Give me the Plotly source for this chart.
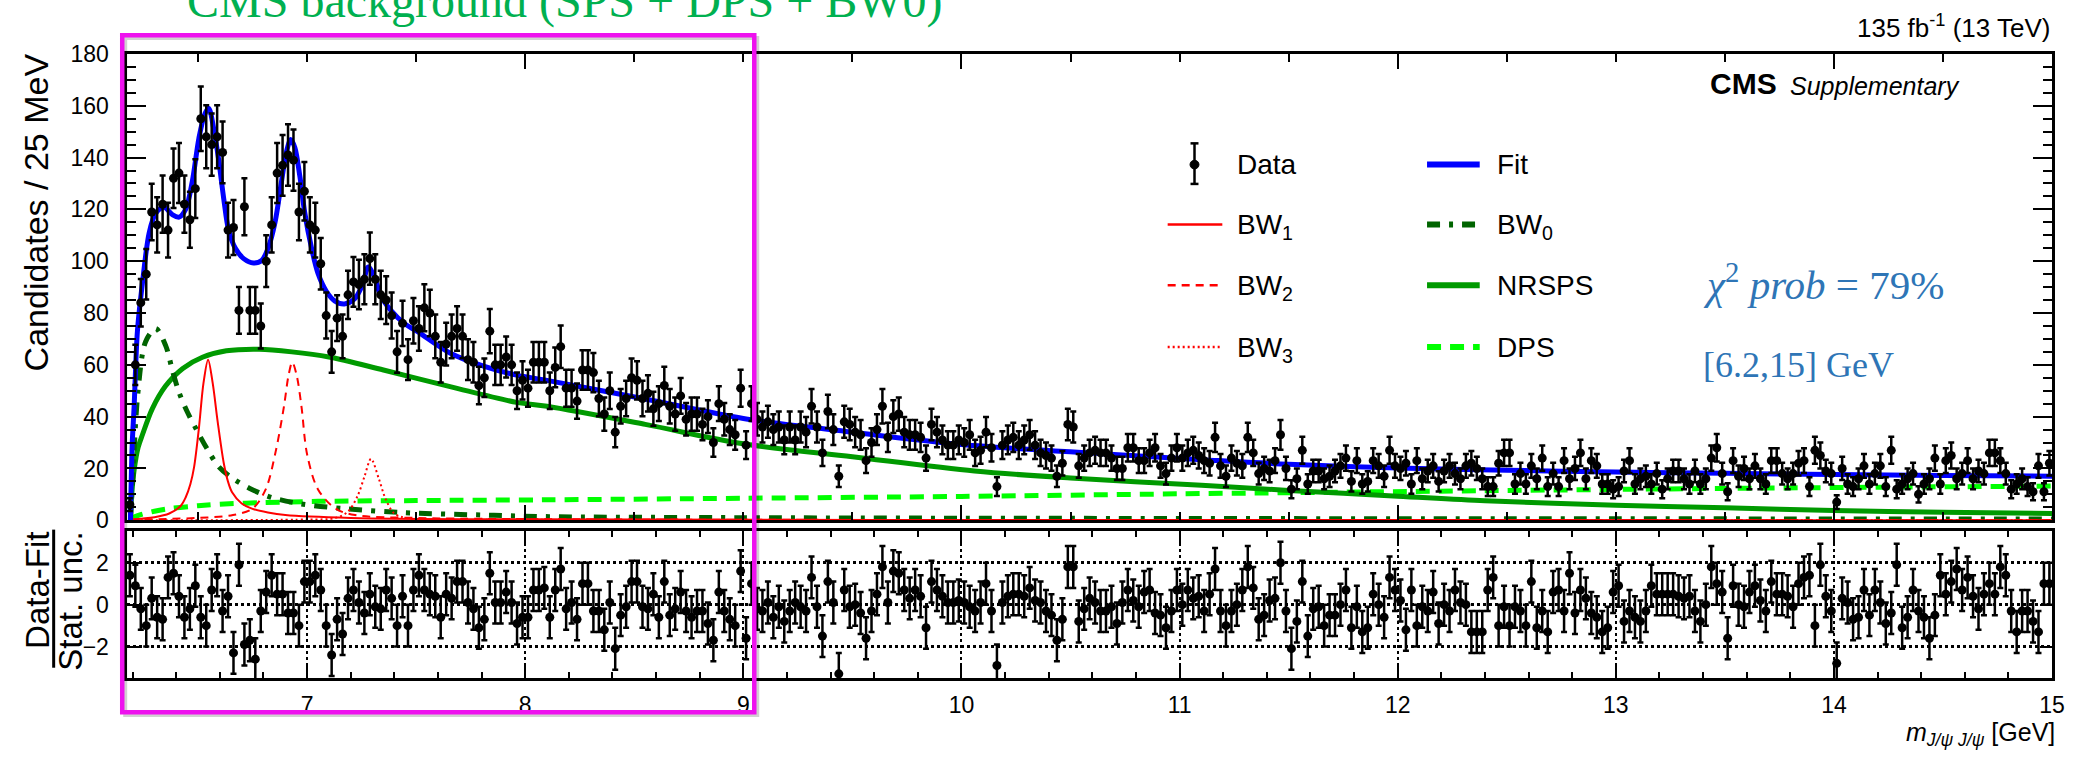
import numpy as np
import plotly.graph_objects as go

W, H = 2084, 757

# ---------------- data ----------------
BIN_LOW = 6.175      # GeV, lower edge of first bin
BIN_WIDTH = 0.025    # GeV  (25 MeV bins)

counts = [
    6, 60, 84, 95, 119, 114, 122, 112, 132, 134,
    122, 116, 128, 155, 148, 145, 148, 142, 112, 113,
    81, 121, 81, 81, 75, 100, 114, 134, 137, 141,
    139, 119, 127, 114, 112, 99, 79, 65, 78, 71,
    87, 92, 91, 93, 101, 93, 87, 85, 79, 65,
    76, 62, 77, 74, 82, 80, 71, 61, 68, 71,
    74, 71, 62, 61, 52, 55, 73, 60, 60, 63,
    60, 50, 54, 51, 61, 61, 61, 50, 59, 67,
    51, 51, 46, 58, 58, 57, 47, 41, 50, 34,
    44, 47, 55, 54, 47, 49, 43, 45, 52, 44,
    41, 48, 39, 41, 41, 37, 40, 30, 45, 39,
    35, 33, 51, 29, 45, 39, 36, 38, 35, 36,
    31, 36, 31, 36, 34, 44, 36, 26, 42, 35,
    17, 38, 37, 34, 33, 23, 30, 35, 44, 32,
    40, 41, 34, 33, 33, 32, 24, 37, 34, 31,
    29, 29, 31, 30, 33, 26, 27, 34, 28, 13,
    29, 31, 32, 29, 31, 33, 29, 26, 25, 24,
    17, 22, 37, 36, 21, 24, 26, 27, 26, 26,
    24, 20, 20, 28, 28, 23, 23, 26, 28, 21,
    18, 24, 28, 24, 26, 27, 25, 23, 22, 32,
    21, 17, 24, 22, 21, 32, 26, 18, 20, 19,
    23, 33, 20, 12, 16, 27, 14, 19, 19, 16,
    17, 19, 21, 24, 15, 23, 14, 15, 23, 21,
    17, 27, 21, 20, 22, 14, 23, 16, 19, 21,
    15, 19, 21, 18, 16, 21, 22, 20, 16, 13,
    13, 22, 26, 26, 14, 18, 14, 21, 16, 24,
    13, 18, 13, 23, 16, 20, 26, 16, 23, 21,
    14, 14, 12, 13, 19, 23, 14, 16, 17, 14,
    18, 12, 16, 19, 19, 16, 14, 19, 14, 16,
    24, 28, 18, 11, 23, 17, 20, 16, 21, 16,
    14, 23, 23, 18, 16, 18, 22, 23, 13, 27,
    25, 19, 18, 7, 20, 14, 13, 16, 21, 14,
    18, 21, 13, 27, 12, 14, 16, 18, 10, 14,
    16, 24, 14, 23, 25, 16, 18, 23, 16, 19,
    18, 26, 26, 23, 18, 12, 14, 16, 13, 11,
    21, 11, 22,
]

pulls = [
    1.4, 0.9, -0.2, -1.0, 0.3, -0.6, -0.7, 1.3, 1.5, 0.4,
    -0.6, -0.2, 0.9, -0.6, -1.0, 0.7, 1.4, -0.3, 0.4, -2.3,
    1.9, -1.9, -1.7, -2.6, -0.3, 0.6, 1.4, 0.5, 0.5, -0.4,
    -0.4, -1.0, 1.1, 1.1, 1.4, 0.7, -1.0, -2.4, -0.7, -1.4,
    0.3, 0.7, 0.1, -0.4, 0.5, -0.1, -0.2, 0.7, 0.3, -1.0,
    0.4, -1.0, 0.7, 1.4, 0.7, 0.5, 0.4, -0.6, 0.5, 0.3,
    1.1, 1.1, 0.1, -0.2, -1.1, -0.7, 1.5, 0.1, 0.1, 0.6,
    0.1, -0.9, -0.6, -0.6, 0.7, 0.7, 0.8, -0.6, 0.7, 1.7,
    -0.2, 0.1, -0.7, 1.0, 1.0, -0.3, -0.3, -1.2, 0.1, -2.1,
    -0.5, -0.1, 1.1, 1.1, -0.1, -0.2, 0.5, -0.6, 1.1, -0.5,
    -0.2, 0.6, -0.3, -0.6, -0.3, -0.3,
    -0.9, -1.7, 0.6, -0.3, -0.7, -1.0, 1.6, -1.6, 1.0, -0.2,
    -0.3, 0.1, -0.6, -0.1, -0.8, -0.3, 0.1, -0.1, -0.3, 1.3,
    -0.1, -1.5, 1.1, 0.1, -3.3, 0.7, -0.1, 0.0, -0.4, -1.6,
    -0.3, 0.5, 1.8, 0.1, 1.6, 1.5, 0.7, 0.3, 0.7, 0.4,
    -1.1, 1.1, 0.7, 0.4, 0.1, 0.1, 0.2, 0.1, -0.1, -0.3,
    0.1, 1.0, -0.3, -2.9, 0.1, 0.4, 0.5, 0.5, 0.4, 0.8,
    0.2, 0.1, -0.3, -0.5, -1.7, -0.7, 1.8,
    1.8, -0.8, -0.2, 0.3, 0.1, -0.3, -0.3, -0.1, -0.9, 0.1,
    0.7, 0.2, -0.1, 0.6, 0.7, -0.4, -0.5, -1.1, -0.3, 0.7,
    0.0, 0.7, 0.3, 0.4, -0.3, 0.5, 1.7, -0.3, -1.0, -0.3,
    0.0, 0.7, 1.8, 0.8, -0.7, -0.5, 0.2, 0.3, 2.0, -0.3,
    -2.1,
    -0.8, 1.1, -1.5, -0.2, -0.1, -1.0, -0.5, -0.5, 0.0, 0.7,
    -1.1, -0.1, -1.3, -1.1, 0.5, 0.0, -0.6, 1.3, 0.7, 0.2,
    -1.2, 0.7, -1.0, -0.1, -0.3, 0.6, -0.9, 0.0, -0.3, 0.7,
    0.1, 0.0, -1.3, -1.3, -1.3, 0.7, 1.3, -1.0, -0.1, -1.0,
    -0.1, -0.3, -1.0, 1.1, -1.1, -0.3, -1.3, 0.6, 0.7, -0.3,
    1.5, -0.4, 0.7, 0.3, -0.4, -0.6, -1.3, -1.1, 0.6, 0.9,
    -0.8, -0.3, -0.6, -0.8, -0.3, 0.9, 0.5, 0.5, 0.5, 0.5,
    0.4, 0.3, 0.4, -0.3, -0.8, 0.0, 1.8, 1.0, 0.6, -1.6,
    0.9, 0.0, -0.1, 0.6, 0.9, 0.2, -0.3, 1.1, 0.5, 0.5,
    0.4, -0.1, 1.0, 1.3, 1.4, -1.0, 1.9, 0.4, -0.3,
    -2.8,
    0.3, 0.1, -0.7, -0.6, 0.7, -0.5, 0.7, 0.1, -0.9, -0.4,
    1.9, -1.1, -0.6, 0.7, -0.3, -0.6, -1.6, -0.5, 1.4, 0.5,
    1.1, 1.7, 0.7, 1.3, 0.4, -0.2, 0.5, 1.0, 0.5, 1.8,
    1.4, -0.3, -1.3, -0.3, -0.3, -0.8, -1.3, 1.0, 1.0,
]

# fit model curves (mass in GeV, candidates / 25 MeV)
fit_x = [6.19, 6.198, 6.207, 6.222, 6.245, 6.276, 6.306, 6.344, 6.382, 6.413,
         6.443, 6.474, 6.504, 6.531, 6.549, 6.572, 6.595, 6.618, 6.64, 6.671,
         6.709, 6.754, 6.792, 6.822, 6.853, 6.883, 6.906, 6.925, 6.944, 6.967,
         6.989, 7.02, 7.05, 7.088, 7.126, 7.171, 7.217, 7.254, 7.28, 7.308,
         7.338, 7.384, 7.445, 7.505, 7.657, 7.809, 7.961, 8.1, 8.55, 9.0,
         9.47, 10.0, 10.66, 11.12, 11.5, 12.0, 12.5, 13.0, 13.5, 14.0, 14.5, 15.0]
fit_y = [0, 29, 44, 73, 91.5, 111, 118.5, 120.8, 118, 117,
         120, 131, 147.5, 156.8, 159, 151, 138.8, 124, 112, 105,
         101, 99.3, 100.3, 105.2, 115, 131, 142.5, 147, 143.8, 132.6,
         118.8, 105.2, 95.3, 88.4, 84.7, 83.5, 85.4, 90.9, 97.8, 94,
         86.6, 81, 76, 72.9, 64.5, 59.5, 56, 54, 46.8, 39.3,
         34.3, 29.2, 25.6, 23.3, 21.6, 20.2, 19.3, 18.6, 18.1, 17.7, 17.3, 17.0]

nrsps_x = [6.19, 6.196, 6.207, 6.225, 6.245, 6.29, 6.35, 6.43, 6.52, 6.63,
           6.78, 6.93, 7.1, 7.35, 7.66, 7.96, 8.1, 8.55, 9.0, 9.5,
           10.06, 10.5, 11.1, 11.5, 12.0, 12.4, 13.0, 13.5, 14.0, 14.5, 15.0]
nrsps_y = [0, 10, 19.4, 28, 33, 43, 51.7, 58.6, 62.9, 65.4,
           66, 65, 63, 58, 51.5, 45.5, 44, 37, 29.5, 24.5,
           19, 16.3, 13.5, 11.5, 9.3, 7.5, 5.8, 4.8, 3.8, 3.1, 2.6]

dps_x = [6.19, 6.2, 6.23, 6.3, 6.37, 6.5, 6.6, 6.8, 7.05, 7.5,
         8.1, 9.0, 10.0, 11.0, 12.4, 13.5, 15.0]
dps_y = [0, 1, 2, 3.5, 4.5, 5.6, 6.2, 6.8, 7.3, 7.6,
         7.9, 8.5, 9.2, 10.2, 11.4, 12.3, 13.2]

bw0_x = [6.19, 6.2, 6.224, 6.26, 6.306, 6.352, 6.382, 6.413, 6.451, 6.497,
         6.542, 6.595, 6.656, 6.747, 6.838, 6.974, 7.17, 7.43, 7.81, 8.11,
         9.0, 10.0, 12.0, 15.0]
bw0_y = [0, 15, 49, 69, 74, 67.3, 58, 49.3, 41.8, 34.3,
         27.5, 20.6, 16.3, 11.9, 8.8, 6.3, 4.5, 3.0, 2.0, 1.4,
         1.0, 0.8, 0.6, 0.5]

bw1_x = [6.19, 6.3, 6.368, 6.42, 6.443, 6.465, 6.482, 6.504, 6.525, 6.546,
         6.567, 6.59, 6.618, 6.637, 6.656, 6.7, 6.747, 6.82, 6.9, 7.2,
         8.0, 10.0, 15.0]
bw1_y = [0.3, 1.2, 2.6, 5.5, 8.8, 14, 20.6, 35.6, 53, 62,
         53, 38, 22, 15, 10.8, 6.5, 4.5, 3, 2, 0.9,
         0.35, 0.1, 0.03]

bw2_x = [6.19, 6.5, 6.66, 6.75, 6.81, 6.856, 6.894, 6.915, 6.932, 6.952,
         6.974, 7.0, 7.05, 7.13, 7.22, 7.5, 8.5, 15.0]
bw2_y = [0.2, 0.9, 2, 4.5, 11.9, 26.6, 44, 56, 61, 56,
         44, 25.4, 11.9, 4.5, 2, 0.9, 0.3, 0.05]

bw3_x = [6.19, 7.0, 7.126, 7.187, 7.232, 7.263, 7.293, 7.33, 7.36, 7.4,
         7.46, 8.0, 15.0]
bw3_y = [0, 0.3, 0.8, 3.3, 9.5, 16.9, 23.7, 15.7, 8.2, 2.6,
         0.8, 0.2, 0.03]

mass_range = [6.172, 15.0]
count_range = [0, 180]
pull_range = [-3.5, 3.5]

# ---------------- figure ----------------
FONT = "Liberation Sans, Arial, Helvetica, sans-serif"
SERIF = "Liberation Serif, Times New Roman, serif"


def px(x):
    return x / W


def py(y):
    return 1 - y / H


centers = BIN_LOW + BIN_WIDTH * (np.arange(len(counts)) + 0.5)
cnt = np.array(counts, dtype=float)
cnt_err = np.sqrt(cnt)

fig = go.Figure()


def curve(x, y, color, width, dash):
    fig.add_trace(go.Scatter(
        x=x, y=y, mode="lines", xaxis="x", yaxis="y",
        line=dict(color=color, width=width, dash=dash, shape="spline", smoothing=0.9),
        showlegend=False, hoverinfo="skip"))


BLUE = "#0000ff"
RED = "#ff0000"
GREEN = "#009a00"
DKGREEN = "#006400"
LIME = "#00ff00"

DPS_DASH = "14px,9px"
BW0_DASH = "13px,9px,4px,9px"
BW2_DASH = "8px,6px"
BW3_DASH = "2px,3px"

curve(dps_x, dps_y, LIME, 5, DPS_DASH)
curve(nrsps_x, nrsps_y, GREEN, 5, "solid")
curve(bw0_x, bw0_y, DKGREEN, 5, BW0_DASH)
curve(bw1_x, bw1_y, RED, 2, "solid")
curve(bw2_x, bw2_y, RED, 2, BW2_DASH)
curve(bw3_x, bw3_y, RED, 2, BW3_DASH)
curve(fit_x, fit_y, BLUE, 5, "solid")

fig.add_trace(go.Scatter(
    x=centers, y=cnt, mode="markers", xaxis="x", yaxis="y",
    marker=dict(color="black", size=9),
    error_y=dict(type="data", array=cnt_err, visible=True, color="black", thickness=2.5, width=3),
    showlegend=False, hoverinfo="skip"))

fig.add_trace(go.Scatter(
    x=centers, y=pulls, mode="markers", xaxis="x2", yaxis="y2",
    marker=dict(color="black", size=9),
    error_y=dict(type="constant", value=1, visible=True, color="black", thickness=2.5, width=3),
    showlegend=False, hoverinfo="skip"))

x_dom = [127.3 / W, 2065 / W]
axis_common = dict(showline=True, linewidth=3, linecolor="black", mirror="ticks",
                   ticks="inside", tickcolor="black", tickwidth=2, zeroline=False)

fig.update_layout(
    width=W, height=H, autosize=False,
    margin=dict(l=0, r=0, t=0, b=0),
    paper_bgcolor="white", plot_bgcolor="white",
    font=dict(family=FONT, color="black"),
    xaxis=dict(domain=x_dom, anchor="y", range=mass_range, showgrid=False,
               tickvals=[8, 10, 12, 14], ticklen=15, showticklabels=False,
               minor=dict(dtick=0.5, tick0=0, ticklen=8, ticks="inside", tickwidth=2, tickcolor="black"),
               **axis_common),
    yaxis=dict(domain=[py(525.3), py(42.4)], anchor="x", range=count_range, showgrid=False,
               dtick=20, tick0=0, ticklen=19, ticklabelstandoff=10,
               tickfont=dict(size=23, family=FONT),
               minor=dict(dtick=5, tick0=0, ticklen=9, ticks="inside", tickwidth=2, tickcolor="black"),
               **axis_common),
    xaxis2=dict(domain=x_dom, anchor="y2", range=mass_range, matches="x",
                tickvals=[7, 8, 9, 10, 11, 12, 13, 14, 15], ticklen=12,
                showgrid=True, gridcolor="black", gridwidth=2, griddash="3px,3px",
                tickfont=dict(size=23, family=FONT), ticklabelstandoff=4,
                minor=dict(dtick=0.2, tick0=0, ticklen=6, ticks="inside", tickwidth=2, tickcolor="black"),
                **axis_common),
    yaxis2=dict(domain=[py(688.7), py(536.7)], anchor="x2", range=pull_range,
                tickvals=[-2, 0, 2], ticktext=["\u22122", "0", "2"], ticklen=12,
                showgrid=True, gridcolor="black", gridwidth=2.5, griddash="3px,3px",
                tickfont=dict(size=23, family=FONT), ticklabelstandoff=10,
                **axis_common),
)

shapes = []
# magenta highlight box with a soft shadow
shapes.append(dict(type="rect", xref="paper", yref="paper",
                   x0=px(126), x1=px(762), y0=py(727), y1=py(26),
                   line=dict(color="rgba(0,0,0,0.18)", width=4), layer="above"))
shapes.append(dict(type="rect", xref="paper", yref="paper",
                   x0=px(123), x1=px(759), y0=py(724), y1=py(23),
                   line=dict(color="#ee11ee", width=4.5), layer="above"))
# fraction bar of the pull-panel title
shapes.append(dict(type="line", xref="paper", yref="paper",
                   x0=px(54), x1=px(54), y0=py(535), y1=py(678),
                   line=dict(color="black", width=3)))

# legend glyphs
rows = [157, 219, 282, 346]
c1 = (1175, 1230)
c2 = (1436, 1489)
shapes.append(dict(type="line", xref="paper", yref="paper", x0=px(1202), x1=px(1202),
                   y0=py(rows[0] - 22), y1=py(rows[0] + 20), line=dict(color="black", width=2.5)))
for yy in (rows[0] - 22, rows[0] + 20):
    shapes.append(dict(type="line", xref="paper", yref="paper", x0=px(1198), x1=px(1206),
                       y0=py(yy), y1=py(yy), line=dict(color="black", width=2.5)))
shapes.append(dict(type="circle", xref="paper", yref="paper", x0=px(1197.5), x1=px(1206.5),
                   y0=py(rows[0] + 4.5), y1=py(rows[0] - 4.5), fillcolor="black",
                   line=dict(color="black", width=1)))


def glyph(col, row, color, width, dash):
    shapes.append(dict(type="line", xref="paper", yref="paper", x0=px(col[0]), x1=px(col[1]),
                       y0=py(row), y1=py(row), line=dict(color=color, width=width, dash=dash)))


glyph(c1, rows[1], RED, 2.5, "solid")
glyph(c1, rows[2], RED, 2.5, BW2_DASH)
glyph(c1, rows[3], RED, 2.5, BW3_DASH)
glyph(c2, rows[0], BLUE, 6, "solid")
glyph(c2, rows[1], DKGREEN, 6, BW0_DASH)
glyph(c2, rows[2], GREEN, 6, "solid")
glyph(c2, rows[3], LIME, 6, DPS_DASH)

fig.update_layout(shapes=shapes)

ann = []


def text(x, y, s, size, family=FONT, color="black", xanchor="left", yanchor="middle", angle=0):
    ann.append(dict(x=px(x), y=py(y), xref="paper", yref="paper", text=s, showarrow=False,
                    xanchor=xanchor, yanchor=yanchor, textangle=angle,
                    font=dict(size=size, family=family, color=color)))


leg1 = ["Data", "BW<sub>1</sub>", "BW<sub>2</sub>", "BW<sub>3</sub>"]
leg2 = ["Fit", "BW<sub>0</sub>", "NRSPS", "DPS"]
for r, s in zip(rows, leg1):
    text(1243, r + (2 if "sub" in s else 0), s, 28)
for r, s in zip(rows, leg2):
    text(1504, r + (2 if "sub" in s else 0), s, 28)

text(2065, 14, "135 fb<sup>-1</sup> (13 TeV)", 26, xanchor="right")
text(1719, 73, "<b>CMS</b>", 30)
text(1799, 76, "<i>Supplementary</i>", 25)

BLUE_TXT = "#2e75b6"
text(1712, 279, "<i>\u03c7</i><sup>2</sup> <i>prob</i> = 79%", 41, family=SERIF, color=BLUE_TXT)
text(1712, 365, "[6.2,15] GeV", 36, family=SERIF, color=BLUE_TXT)

text(186, -12, "CMS background (SPS + DPS + BW0)", 48, family=SERIF, color="#00b050")

text(36, 40, "Candidates / 25 MeV", 34, xanchor="center", yanchor="top", angle=-90)
text(37, 535, "Data-Fit", 33, xanchor="center", yanchor="top", angle=-90)
text(71, 535, "Stat. unc.", 33, xanchor="center", yanchor="top", angle=-90)

text(2070, 747, "<i>m</i><sub><i>J/\u03c8 J/\u03c8</i></sub> [GeV]", 25, xanchor="right")

fig.update_layout(annotations=ann)

fig.write_html("out.html")
